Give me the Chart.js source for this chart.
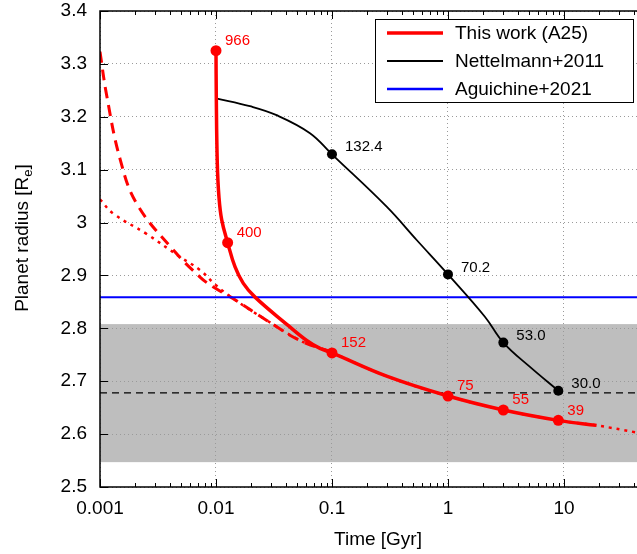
<!DOCTYPE html>
<html>
<head>
<meta charset="UTF-8">
<title>Planet radius vs time</title>
<script src="https://cdn.jsdelivr.net/npm/chart.js@4.4.1/dist/chart.umd.min.js"></script>
<style>
    html, body { margin: 0; padding: 0; background: #fff; overflow: hidden; }
    #radiusChart { display: block; }
</style>
</head>
<body>
<canvas id="radiusChart" width="637" height="554"></canvas>

<script>
    // axis range and tick labels
    const xMin = 0.001;
    const xMax = 42.6;
    const yMin = 2.5;
    const yMax = 3.4;
    const xTicks = [0.001, 0.01, 0.1, 1, 10];
    const yTicks = [2.5, 2.6, 2.7, 2.8, 2.9, 3.0, 3.1, 3.2, 3.3, 3.4];

    // This work (A25) - solid red, labelled points
    const a25Time   = [0.01, 0.01006, 0.01026, 0.0106, 0.0112, 0.0126, 0.0146, 0.0172, 0.0217, 0.0405, 0.0605, 0.0788, 0.1, 0.3, 1, 3, 8.93, 19.1];
    const a25Radius = [3.325, 3.238, 3.112, 3.049, 3.005, 2.962, 2.916, 2.885, 2.859, 2.808, 2.777, 2.762, 2.7535, 2.709, 2.672, 2.6456, 2.626, 2.6165];
    const a25Labels = ['966', '', '', '', '', '400', '', '', '', '', '', '', '152', '', '75', '55', '39', ''];

    // red dashed branch
    const dashedTime   = [0.001, 0.00114, 0.00149, 0.00207, 0.00429, 0.00728, 0.0095, 0.0141, 0.0274, 0.053, 0.1];
    const dashedRadius = [3.323, 3.241, 3.12, 3.036, 2.948, 2.897, 2.878, 2.856, 2.815, 2.777, 2.755];

    // red dotted branch
    const dottedTime   = [0.001, 0.0013, 0.0025, 0.0049, 0.0073, 0.01, 0.0141, 0.0274, 0.053, 0.0738, 0.1, 0.3, 1, 3, 8.93, 19.1, 42.6];
    const dottedRadius = [3.044, 3.017, 2.979, 2.935, 2.910, 2.8815, 2.856, 2.815, 2.777, 2.765, 2.754, 2.709, 2.672, 2.6456, 2.626, 2.6165, 2.603];

    // Nettelmann+2011 - black
    const nettTime   = [0.01, 0.0196, 0.0333, 0.0646, 0.1, 0.296, 0.537, 1, 2.08, 3.0, 5.09, 8.93];
    const nettRadius = [3.235, 3.220, 3.203, 3.169, 3.129, 3.030, 2.967, 2.902, 2.822, 2.773, 2.727, 2.682];
    const nettLabels = ['', '', '', '', '132.4', '', '', '70.2', '', '53.0', '', '30.0'];

    // Aguichine+2021 - blue horizontal
    const aguichineRadius = 2.859;

    // observed radius and its uncertainty band
    const observedRadius = 2.678;
    const observedLow = 2.547;
    const observedHigh = 2.808;

    const FONT = '"Liberation Sans", Arial, Helvetica, sans-serif';

    function toPoints(xs, ys) {
        return xs.map((x, i) => ({ x: x, y: ys[i] }));
    }

    // gray band of the observed radius
    const bandPlugin = {
        id: 'band',
        beforeDraw(chart) {
            const { ctx, chartArea: a, scales: { y } } = chart;
            const top = y.getPixelForValue(observedHigh);
            const bottom = y.getPixelForValue(observedLow);
            ctx.save();
            ctx.fillStyle = '#bebebe';
            ctx.fillRect(a.left, top, a.right - a.left, bottom - top);
            ctx.restore();
        }
    };

    // numbers next to the marked points
    const pointLabelPlugin = {
        id: 'pointLabels',
        afterDatasetsDraw(chart) {
            const ctx = chart.ctx;
            chart.data.datasets.forEach((ds, i) => {
                if (!ds.pointLabels) return;
                const meta = chart.getDatasetMeta(i);
                ctx.save();
                ctx.font = '15px ' + FONT;
                ctx.fillStyle = ds.labelColor;
                ctx.textAlign = 'left';
                ctx.textBaseline = 'middle';
                meta.data.forEach((pt, j) => {
                    const text = ds.pointLabels[j];
                    if (!text) return;
                    ctx.fillText(text, pt.x + ds.labelDx, pt.y + ds.labelDy);
                });
                ctx.restore();
            });
        }
    };

    // frame, inward ticks, legend box and axis titles
    const framePlugin = {
        id: 'frame',
        afterDraw(chart) {
            const { ctx, chartArea: a, scales: { x, y } } = chart;
            ctx.save();
            ctx.strokeStyle = '#000';
            ctx.lineWidth = 1;

            // x ticks, top and bottom
            ctx.beginPath();
            xTicks.forEach(d => {
                for (let k = 1; k <= 9; k++) {
                    const v = d * k;
                    if (v > xMax) break;
                    const px = Math.round(x.getPixelForValue(v)) + 0.5;
                    const len = k === 1 ? 8 : 4;
                    ctx.moveTo(px, a.bottom); ctx.lineTo(px, a.bottom - len);
                    ctx.moveTo(px, a.top); ctx.lineTo(px, a.top + len);
                }
            });
            // y ticks, left
            yTicks.forEach(v => {
                const py = Math.round(y.getPixelForValue(v)) + 0.5;
                ctx.moveTo(a.left, py); ctx.lineTo(a.left + 8, py);
            });
            ctx.stroke();

            // frame
            ctx.lineWidth = 1.5;
            ctx.beginPath();
            ctx.moveTo(a.right + 2, a.top);
            ctx.lineTo(a.left, a.top);
            ctx.lineTo(a.left, a.bottom);
            ctx.lineTo(a.right + 2, a.bottom);
            ctx.stroke();

            // legend
            const legendItems = chart.data.datasets.filter(ds => ds.inLegend);
            const bx = 375, by = 19, bw = 258, bh = 83;
            ctx.fillStyle = '#fff';
            ctx.fillRect(bx, by, bw, bh);
            ctx.lineWidth = 1;
            ctx.strokeRect(bx + 0.5, by + 0.5, bw, bh);
            ctx.font = '19px ' + FONT;
            ctx.textAlign = 'left';
            ctx.textBaseline = 'middle';
            legendItems.forEach((ds, i) => {
                const ly = by + 14 + i * 28;
                ctx.strokeStyle = ds.borderColor;
                ctx.lineWidth = ds.legendWidth;
                ctx.setLineDash([]);
                ctx.beginPath();
                ctx.moveTo(bx + 12, ly);
                ctx.lineTo(bx + 68, ly);
                ctx.stroke();
                ctx.fillStyle = '#000';
                ctx.fillText(ds.label, bx + 80, ly + 1);
            });

            // x title
            ctx.fillStyle = '#000';
            ctx.font = '19px ' + FONT;
            ctx.textAlign = 'center';
            ctx.textBaseline = 'alphabetic';
            ctx.fillText('Time [Gyr]', 378, 545);

            // y title with subscript
            ctx.save();
            ctx.translate(28, 238);
            ctx.rotate(-Math.PI / 2);
            const main = 'Planet radius [R';
            const sub = 'e';
            const close = ']';
            ctx.font = '19px ' + FONT;
            const wMain = ctx.measureText(main).width;
            const wClose = ctx.measureText(close).width;
            ctx.font = '13px ' + FONT;
            const wSub = ctx.measureText(sub).width;
            let sx = -(wMain + wSub + wClose) / 2;
            ctx.textAlign = 'left';
            ctx.font = '19px ' + FONT;
            ctx.fillText(main, sx, 0);
            sx += wMain;
            ctx.font = '13px ' + FONT;
            ctx.fillText(sub, sx, 4);
            sx += wSub;
            ctx.font = '19px ' + FONT;
            ctx.fillText(close, sx, 0);
            ctx.restore();

            ctx.restore();
        }
    };

    const datasets = [
        {
            label: 'This work (A25)',
            inLegend: true,
            legendWidth: 3.5,
            data: toPoints(a25Time, a25Radius),
            borderColor: '#ff0000',
            backgroundColor: '#ff0000',
            borderWidth: 3.5,
            pointRadius: ctx => a25Labels[ctx.dataIndex] ? 5.5 : 0,
            pointBackgroundColor: '#ff0000',
            pointBorderWidth: 0,
            tension: 0.4,
            pointLabels: a25Labels,
            labelColor: '#ff0000',
            labelDx: 9,
            labelDy: -10
        },
        {
            label: 'Nettelmann+2011',
            inLegend: true,
            legendWidth: 2,
            data: toPoints(nettTime, nettRadius),
            borderColor: '#000000',
            backgroundColor: '#000000',
            borderWidth: 1.8,
            pointRadius: ctx => nettLabels[ctx.dataIndex] ? 5 : 0,
            pointBackgroundColor: '#000000',
            pointBorderWidth: 0,
            tension: 0.4,
            pointLabels: nettLabels,
            labelColor: '#000000',
            labelDx: 13,
            labelDy: -7
        },
        {
            label: 'Aguichine+2021',
            inLegend: true,
            legendWidth: 2.5,
            data: toPoints([xMin, xMax], [aguichineRadius, aguichineRadius]),
            borderColor: '#0000ff',
            borderWidth: 2,
            pointRadius: 0
        },
        {
            label: 'dashed',
            data: toPoints(dashedTime, dashedRadius),
            borderColor: '#ff0000',
            borderWidth: 3,
            borderDash: [11, 7],
            pointRadius: 0,
            tension: 0.4
        },
        {
            label: 'dotted',
            data: toPoints(dottedTime, dottedRadius),
            borderColor: '#ff0000',
            borderWidth: 2.5,
            borderDash: [3, 5],
            pointRadius: 0,
            tension: 0.4
        },
        {
            label: 'observed',
            data: toPoints([xMin, xMax], [observedRadius, observedRadius]),
            borderColor: '#000000',
            borderWidth: 1.2,
            borderDash: [7, 5],
            pointRadius: 0
        }
    ];

    new Chart(document.getElementById('radiusChart'), {
        type: 'line',
        data: { datasets: datasets },
        plugins: [bandPlugin, pointLabelPlugin, framePlugin],
        options: {
            responsive: false,
            devicePixelRatio: 1,
            animation: false,
            events: [],
            layout: { autoPadding: false, padding: { top: 11, left: 0, right: 0, bottom: 0 } },
            plugins: {
                legend: { display: false },
                tooltip: { enabled: false }
            },
            scales: {
                x: {
                    type: 'logarithmic',
                    min: xMin,
                    max: xMax,
                    afterBuildTicks: s => { s.ticks = xTicks.map(v => ({ value: v })); },
                    afterFit: s => { s.height = 67; s.paddingLeft = 0; s.paddingRight = 0; },
                    ticks: {
                        autoSkip: false,
                        maxRotation: 0,
                        padding: 12,
                        color: '#000',
                        font: { family: FONT, size: 19, lineHeight: 1 },
                        callback: v => String(v)
                    },
                    grid: { color: '#9a9a9a', lineWidth: 1, drawTicks: false },
                    border: { display: false, dash: [1, 3] }
                },
                y: {
                    type: 'linear',
                    min: yMin,
                    max: yMax,
                    afterBuildTicks: s => { s.ticks = yTicks.map(v => ({ value: v })); },
                    afterFit: s => { s.width = 100; s.paddingTop = 0; s.paddingBottom = 0; },
                    ticks: {
                        padding: 13,
                        color: '#000',
                        font: { family: FONT, size: 19, lineHeight: 1 },
                        callback: v => (v === 3 ? '3' : v.toFixed(1))
                    },
                    grid: { color: '#9a9a9a', lineWidth: 1, drawTicks: false },
                    border: { display: false, dash: [1, 3] }
                }
            }
        }
    });
</script>
</body>
</html>
